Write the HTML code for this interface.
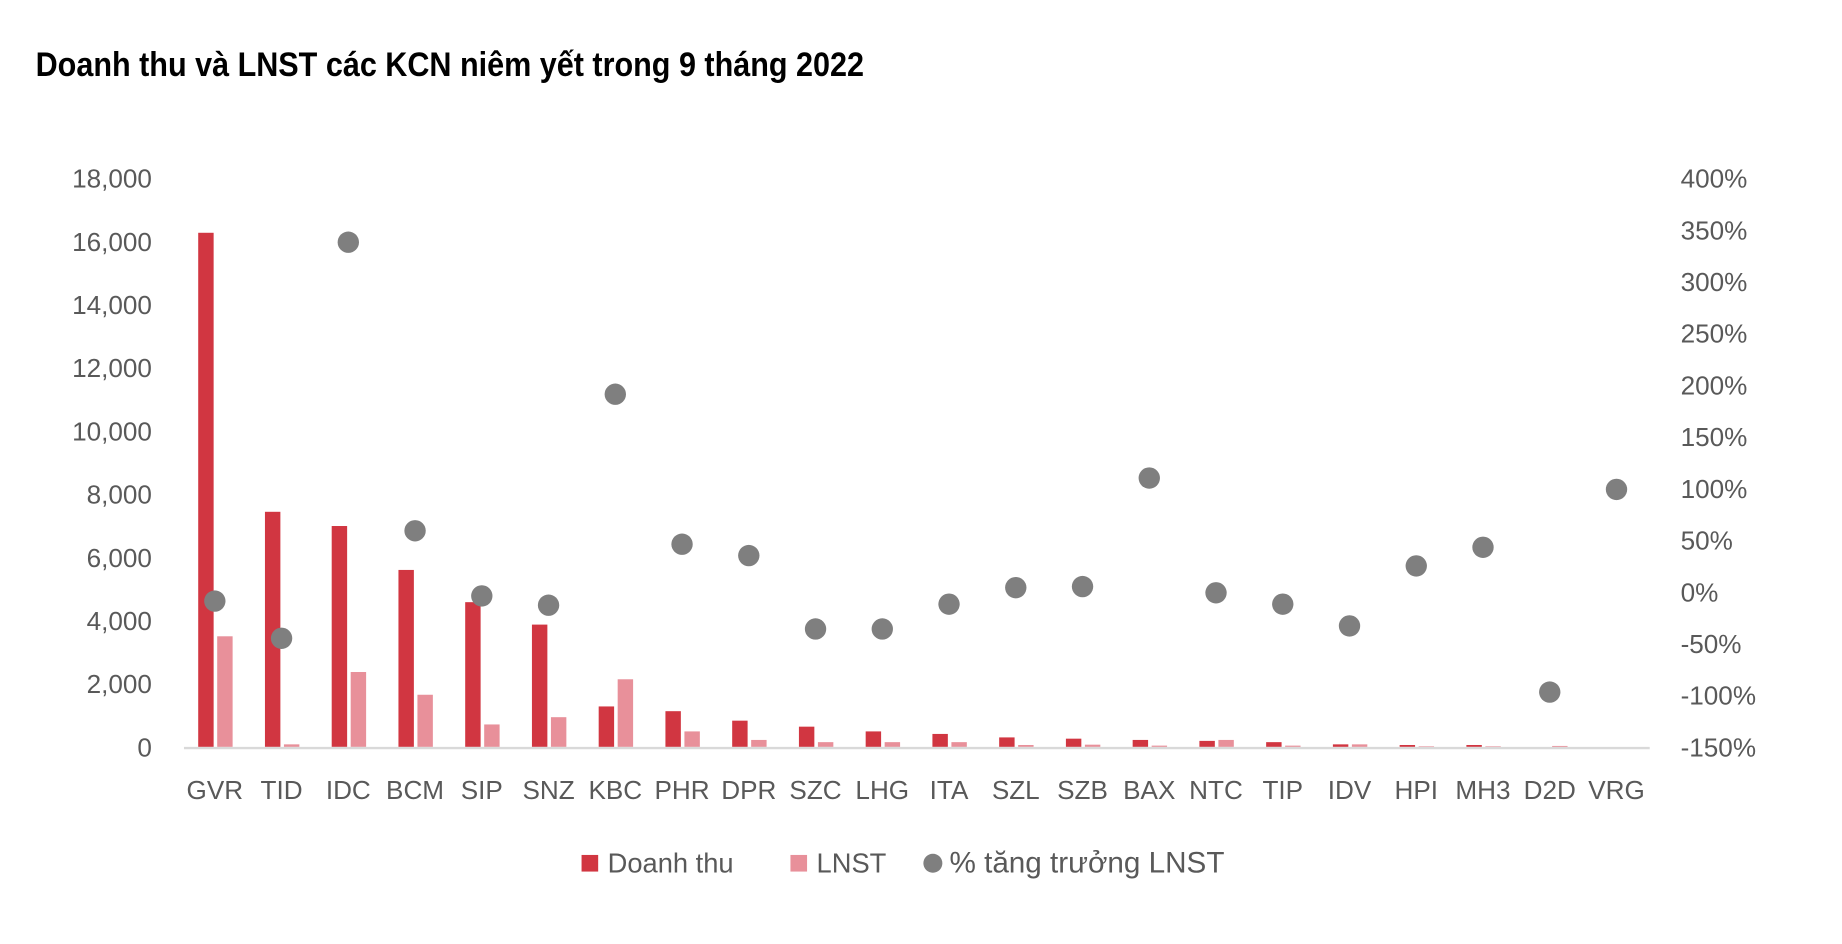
<!DOCTYPE html>
<html><head><meta charset="utf-8">
<style>html,body{margin:0;padding:0;background:#fff;}svg{display:block;}</style>
</head><body>
<svg id="chart" width="1842" height="944" viewBox="0 0 1552 795" preserveAspectRatio="none" xmlns="http://www.w3.org/2000/svg" font-family="'Liberation Sans', sans-serif">
<text x="30" y="64" font-family="'Liberation Sans Narrow','Liberation Sans',sans-serif" font-weight="bold" font-size="29" textLength="698" lengthAdjust="spacingAndGlyphs" fill="#000">Doanh thu và LNST các KCN niêm yết trong 9 tháng 2022</text>
<g id="plot"></g>
<g>
<rect x="490" y="720" width="14" height="14" fill="#d13641"/>
<text x="512" y="735" font-size="23" fill="#595959">Doanh thu</text>
<rect x="666" y="720" width="14" height="14" fill="#e8909a"/>
<text x="688" y="735" font-size="23" fill="#595959">LNST</text>
<circle cx="786" cy="727" r="8" fill="#7f7f7f"/>
<text x="800" y="735" font-size="25" fill="#595959">% tăng trưởng LNST</text>
</g>
</svg>
<script>
const categories = ["GVR","TID","IDC","BCM","SIP","SNZ","KBC","PHR","DPR","SZC","LHG","ITA","SZL","SZB","BAX","NTC","TIP","IDV","HPI","MH3","D2D","VRG"];
const revenue = [16270,7440,6990,5600,4580,3870,1280,1130,830,640,490,410,300,260,220,190,150,80,60,60,0,0];
const profit = [3500,80,2370,1650,710,940,2140,490,220,150,150,150,60,70,40,220,40,80,20,20,30,0];
const growth = [-9,-45,338,59,-4,-13,191,46,35,-36,-36,-12,4,5,110,-1,-12,-33,25,43,-97,99];
const leftTicks = [0,2000,4000,6000,8000,10000,12000,14000,16000,18000];
const rightTicks = [-150,-100,-50,0,50,100,150,200,250,300,350,400];

const NS = "http://www.w3.org/2000/svg";
const plotG = document.getElementById("plot");
const plotTop = 150, plotBottom = 629, plotX0 = 155, plotX1 = 1390;
const yL = v => plotBottom - (v / 18000) * (plotBottom - plotTop);
const yR = v => plotBottom - ((v + 150) / 550) * (plotBottom - plotTop);
const xC = i => 181 + i * (1362 - 181) / (categories.length - 1);
function mk(tag, attrs, text) {
  const e = document.createElementNS(NS, tag);
  for (const k in attrs) e.setAttribute(k, attrs[k]);
  if (text !== undefined) e.textContent = text;
  plotG.appendChild(e);
  return e;
}
leftTicks.forEach(t => {
  const e = mk("text", {x: 128, y: yL(t) + 8, "text-anchor": "end", "font-size": 22, fill: "#595959"}, t.toLocaleString("en-US"));
  
  
});
rightTicks.forEach(t => {
  const e = mk("text", {x: 1416, y: yR(t) + 8, "font-size": 22, fill: "#595959"}, t + "%");
  
  
});
categories.forEach((c, i) => {
  const cx = xC(i);
  const b1 = mk("rect", {x: cx - 14, y: yL(revenue[i]), width: 13, height: plotBottom - yL(revenue[i]), fill: "#d13641"});
  
  
  const b2 = mk("rect", {x: cx + 2, y: yL(profit[i]), width: 13, height: plotBottom - yL(profit[i]), fill: "#e8909a"});
  
  
  const lb = mk("text", {x: cx, y: 673, "text-anchor": "middle", "font-size": 22, fill: "#595959"}, c);
  
  
});
const ax = mk("line", {x1: plotX0, x2: plotX1, y1: plotBottom + 1, y2: plotBottom + 1, stroke: "#d9d9d9", "stroke-width": 2});


categories.forEach((c, i) => {
  const d = mk("circle", {cx: xC(i), cy: yR(growth[i]), r: 9, fill: "#7f7f7f"});
  
  
});
</script>
</body></html>
